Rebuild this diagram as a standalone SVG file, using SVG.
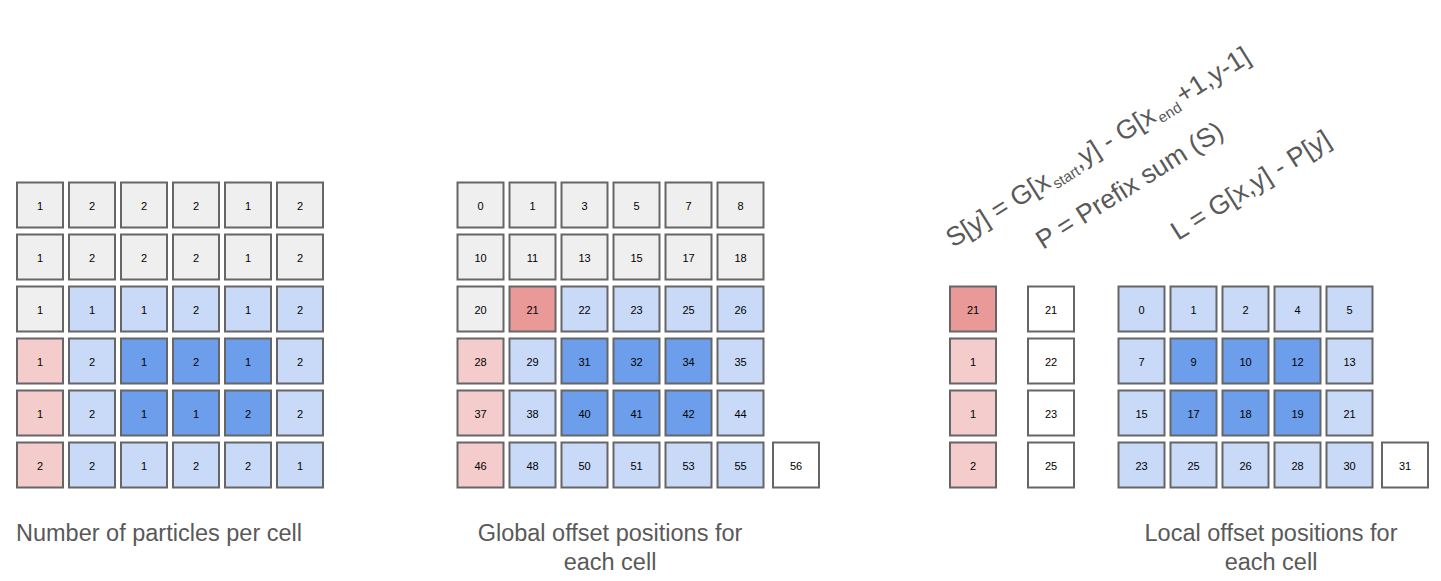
<svg xmlns="http://www.w3.org/2000/svg" width="1441" height="581" viewBox="0 0 1441 581">
<style>
.c{stroke:#666666;stroke-width:2}
.g{fill:#efefef}.lb{fill:#c9daf8}.b{fill:#6d9eeb}.lr{fill:#f4cccc}.r{fill:#ea9999}.w{fill:#ffffff}
.t{font-family:"Liberation Sans",Arial,sans-serif;font-size:11px;fill:#000;text-anchor:middle;dominant-baseline:central}
.cap{font-family:"Liberation Sans",Arial,sans-serif;font-size:23.5px;fill:#595959;text-anchor:middle}
.f{font-family:"Liberation Sans",Arial,sans-serif;font-size:26.5px;fill:#595959}
.sub{font-size:15px}
</style>
<rect width="1441" height="581" fill="#ffffff"/>

<g id="grid-counts">
<g transform="translate(17,182.5)">
<rect class="c g" x="0" y="0" width="46" height="45"/><text class="t" x="23" y="23">1</text>
<rect class="c g" x="52" y="0" width="46" height="45"/><text class="t" x="75" y="23">2</text>
<rect class="c g" x="104" y="0" width="46" height="45"/><text class="t" x="127" y="23">2</text>
<rect class="c g" x="156" y="0" width="46" height="45"/><text class="t" x="179" y="23">2</text>
<rect class="c g" x="208" y="0" width="46" height="45"/><text class="t" x="231" y="23">1</text>
<rect class="c g" x="260" y="0" width="46" height="45"/><text class="t" x="283" y="23">2</text>

<rect class="c g" x="0" y="52" width="46" height="45"/><text class="t" x="23" y="75">1</text>
<rect class="c g" x="52" y="52" width="46" height="45"/><text class="t" x="75" y="75">2</text>
<rect class="c g" x="104" y="52" width="46" height="45"/><text class="t" x="127" y="75">2</text>
<rect class="c g" x="156" y="52" width="46" height="45"/><text class="t" x="179" y="75">2</text>
<rect class="c g" x="208" y="52" width="46" height="45"/><text class="t" x="231" y="75">1</text>
<rect class="c g" x="260" y="52" width="46" height="45"/><text class="t" x="283" y="75">2</text>

<rect class="c g" x="0" y="104" width="46" height="45"/><text class="t" x="23" y="127">1</text>
<rect class="c lb" x="52" y="104" width="46" height="45"/><text class="t" x="75" y="127">1</text>
<rect class="c lb" x="104" y="104" width="46" height="45"/><text class="t" x="127" y="127">1</text>
<rect class="c lb" x="156" y="104" width="46" height="45"/><text class="t" x="179" y="127">2</text>
<rect class="c lb" x="208" y="104" width="46" height="45"/><text class="t" x="231" y="127">1</text>
<rect class="c lb" x="260" y="104" width="46" height="45"/><text class="t" x="283" y="127">2</text>

<rect class="c lr" x="0" y="156" width="46" height="45"/><text class="t" x="23" y="179">1</text>
<rect class="c lb" x="52" y="156" width="46" height="45"/><text class="t" x="75" y="179">2</text>
<rect class="c b" x="104" y="156" width="46" height="45"/><text class="t" x="127" y="179">1</text>
<rect class="c b" x="156" y="156" width="46" height="45"/><text class="t" x="179" y="179">2</text>
<rect class="c b" x="208" y="156" width="46" height="45"/><text class="t" x="231" y="179">1</text>
<rect class="c lb" x="260" y="156" width="46" height="45"/><text class="t" x="283" y="179">2</text>

<rect class="c lr" x="0" y="208" width="46" height="45"/><text class="t" x="23" y="231">1</text>
<rect class="c lb" x="52" y="208" width="46" height="45"/><text class="t" x="75" y="231">2</text>
<rect class="c b" x="104" y="208" width="46" height="45"/><text class="t" x="127" y="231">1</text>
<rect class="c b" x="156" y="208" width="46" height="45"/><text class="t" x="179" y="231">1</text>
<rect class="c b" x="208" y="208" width="46" height="45"/><text class="t" x="231" y="231">2</text>
<rect class="c lb" x="260" y="208" width="46" height="45"/><text class="t" x="283" y="231">2</text>

<rect class="c lr" x="0" y="260" width="46" height="45"/><text class="t" x="23" y="283">2</text>
<rect class="c lb" x="52" y="260" width="46" height="45"/><text class="t" x="75" y="283">2</text>
<rect class="c lb" x="104" y="260" width="46" height="45"/><text class="t" x="127" y="283">1</text>
<rect class="c lb" x="156" y="260" width="46" height="45"/><text class="t" x="179" y="283">2</text>
<rect class="c lb" x="208" y="260" width="46" height="45"/><text class="t" x="231" y="283">2</text>
<rect class="c lb" x="260" y="260" width="46" height="45"/><text class="t" x="283" y="283">1</text>
</g>
</g>

<g id="grid-global">
<g transform="translate(457.5,182.5)">
<rect class="c g" x="0" y="0" width="46" height="45"/><text class="t" x="23" y="23">0</text>
<rect class="c g" x="52" y="0" width="46" height="45"/><text class="t" x="75" y="23">1</text>
<rect class="c g" x="104" y="0" width="46" height="45"/><text class="t" x="127" y="23">3</text>
<rect class="c g" x="156" y="0" width="46" height="45"/><text class="t" x="179" y="23">5</text>
<rect class="c g" x="208" y="0" width="46" height="45"/><text class="t" x="231" y="23">7</text>
<rect class="c g" x="260" y="0" width="46" height="45"/><text class="t" x="283" y="23">8</text>

<rect class="c g" x="0" y="52" width="46" height="45"/><text class="t" x="23" y="75">10</text>
<rect class="c g" x="52" y="52" width="46" height="45"/><text class="t" x="75" y="75">11</text>
<rect class="c g" x="104" y="52" width="46" height="45"/><text class="t" x="127" y="75">13</text>
<rect class="c g" x="156" y="52" width="46" height="45"/><text class="t" x="179" y="75">15</text>
<rect class="c g" x="208" y="52" width="46" height="45"/><text class="t" x="231" y="75">17</text>
<rect class="c g" x="260" y="52" width="46" height="45"/><text class="t" x="283" y="75">18</text>

<rect class="c g" x="0" y="104" width="46" height="45"/><text class="t" x="23" y="127">20</text>
<rect class="c r" x="52" y="104" width="46" height="45"/><text class="t" x="75" y="127">21</text>
<rect class="c lb" x="104" y="104" width="46" height="45"/><text class="t" x="127" y="127">22</text>
<rect class="c lb" x="156" y="104" width="46" height="45"/><text class="t" x="179" y="127">23</text>
<rect class="c lb" x="208" y="104" width="46" height="45"/><text class="t" x="231" y="127">25</text>
<rect class="c lb" x="260" y="104" width="46" height="45"/><text class="t" x="283" y="127">26</text>

<rect class="c lr" x="0" y="156" width="46" height="45"/><text class="t" x="23" y="179">28</text>
<rect class="c lb" x="52" y="156" width="46" height="45"/><text class="t" x="75" y="179">29</text>
<rect class="c b" x="104" y="156" width="46" height="45"/><text class="t" x="127" y="179">31</text>
<rect class="c b" x="156" y="156" width="46" height="45"/><text class="t" x="179" y="179">32</text>
<rect class="c b" x="208" y="156" width="46" height="45"/><text class="t" x="231" y="179">34</text>
<rect class="c lb" x="260" y="156" width="46" height="45"/><text class="t" x="283" y="179">35</text>

<rect class="c lr" x="0" y="208" width="46" height="45"/><text class="t" x="23" y="231">37</text>
<rect class="c lb" x="52" y="208" width="46" height="45"/><text class="t" x="75" y="231">38</text>
<rect class="c b" x="104" y="208" width="46" height="45"/><text class="t" x="127" y="231">40</text>
<rect class="c b" x="156" y="208" width="46" height="45"/><text class="t" x="179" y="231">41</text>
<rect class="c b" x="208" y="208" width="46" height="45"/><text class="t" x="231" y="231">42</text>
<rect class="c lb" x="260" y="208" width="46" height="45"/><text class="t" x="283" y="231">44</text>

<rect class="c lr" x="0" y="260" width="46" height="45"/><text class="t" x="23" y="283">46</text>
<rect class="c lb" x="52" y="260" width="46" height="45"/><text class="t" x="75" y="283">48</text>
<rect class="c lb" x="104" y="260" width="46" height="45"/><text class="t" x="127" y="283">50</text>
<rect class="c lb" x="156" y="260" width="46" height="45"/><text class="t" x="179" y="283">51</text>
<rect class="c lb" x="208" y="260" width="46" height="45"/><text class="t" x="231" y="283">53</text>
<rect class="c lb" x="260" y="260" width="46" height="45"/><text class="t" x="283" y="283">55</text>
<rect class="c w" x="315.5" y="260" width="46" height="45"/><text class="t" x="338.5" y="283">56</text>
</g>
</g>

<g id="column-S">
<g transform="translate(950,286.5)">
<rect class="c r" x="0" y="0" width="46" height="45"/><text class="t" x="23" y="23">21</text>
<rect class="c lr" x="0" y="52" width="46" height="45"/><text class="t" x="23" y="75">1</text>
<rect class="c lr" x="0" y="104" width="46" height="45"/><text class="t" x="23" y="127">1</text>
<rect class="c lr" x="0" y="156" width="46" height="45"/><text class="t" x="23" y="179">2</text>
</g>
</g>

<g id="column-P">
<g transform="translate(1028,286.5)">
<rect class="c w" x="0" y="0" width="46" height="45"/><text class="t" x="23" y="23">21</text>
<rect class="c w" x="0" y="52" width="46" height="45"/><text class="t" x="23" y="75">22</text>
<rect class="c w" x="0" y="104" width="46" height="45"/><text class="t" x="23" y="127">23</text>
<rect class="c w" x="0" y="156" width="46" height="45"/><text class="t" x="23" y="179">25</text>
</g>
</g>

<g id="grid-local">
<g transform="translate(1118.5,286.5)">
<rect class="c lb" x="0" y="0" width="46" height="45"/><text class="t" x="23" y="23">0</text>
<rect class="c lb" x="52" y="0" width="46" height="45"/><text class="t" x="75" y="23">1</text>
<rect class="c lb" x="104" y="0" width="46" height="45"/><text class="t" x="127" y="23">2</text>
<rect class="c lb" x="156" y="0" width="46" height="45"/><text class="t" x="179" y="23">4</text>
<rect class="c lb" x="208" y="0" width="46" height="45"/><text class="t" x="231" y="23">5</text>

<rect class="c lb" x="0" y="52" width="46" height="45"/><text class="t" x="23" y="75">7</text>
<rect class="c b" x="52" y="52" width="46" height="45"/><text class="t" x="75" y="75">9</text>
<rect class="c b" x="104" y="52" width="46" height="45"/><text class="t" x="127" y="75">10</text>
<rect class="c b" x="156" y="52" width="46" height="45"/><text class="t" x="179" y="75">12</text>
<rect class="c lb" x="208" y="52" width="46" height="45"/><text class="t" x="231" y="75">13</text>

<rect class="c lb" x="0" y="104" width="46" height="45"/><text class="t" x="23" y="127">15</text>
<rect class="c b" x="52" y="104" width="46" height="45"/><text class="t" x="75" y="127">17</text>
<rect class="c b" x="104" y="104" width="46" height="45"/><text class="t" x="127" y="127">18</text>
<rect class="c b" x="156" y="104" width="46" height="45"/><text class="t" x="179" y="127">19</text>
<rect class="c lb" x="208" y="104" width="46" height="45"/><text class="t" x="231" y="127">21</text>

<rect class="c lb" x="0" y="156" width="46" height="45"/><text class="t" x="23" y="179">23</text>
<rect class="c lb" x="52" y="156" width="46" height="45"/><text class="t" x="75" y="179">25</text>
<rect class="c lb" x="104" y="156" width="46" height="45"/><text class="t" x="127" y="179">26</text>
<rect class="c lb" x="156" y="156" width="46" height="45"/><text class="t" x="179" y="179">28</text>
<rect class="c lb" x="208" y="156" width="46" height="45"/><text class="t" x="231" y="179">30</text>
<rect class="c w" x="263.5" y="156" width="46" height="45"/><text class="t" x="286.5" y="179">31</text>
</g>
</g>

<g id="formulas">
<text class="f" transform="translate(953,248) rotate(-32)">S[y] = G[x<tspan class="sub" dx="2" dy="5">start</tspan><tspan dy="-5">,y] - G[x</tspan><tspan class="sub" dx="2" dy="5">end</tspan><tspan dx="3" dy="-5">+1,y-1]</tspan></text>
<text class="f" transform="translate(1043,250) rotate(-32)">P = Prefix sum (S)</text>
<text class="f" transform="translate(1178,241) rotate(-32)">L = G[x,y] - P[y]</text>
</g>

<g id="captions">
<text class="cap" x="159" y="541">Number of particles per cell</text>
<text class="cap" x="610" y="541">Global offset positions for</text>
<text class="cap" x="610" y="570">each cell</text>
<text class="cap" x="1271" y="541">Local offset positions for</text>
<text class="cap" x="1271" y="570">each cell</text>
</g>
</svg>
